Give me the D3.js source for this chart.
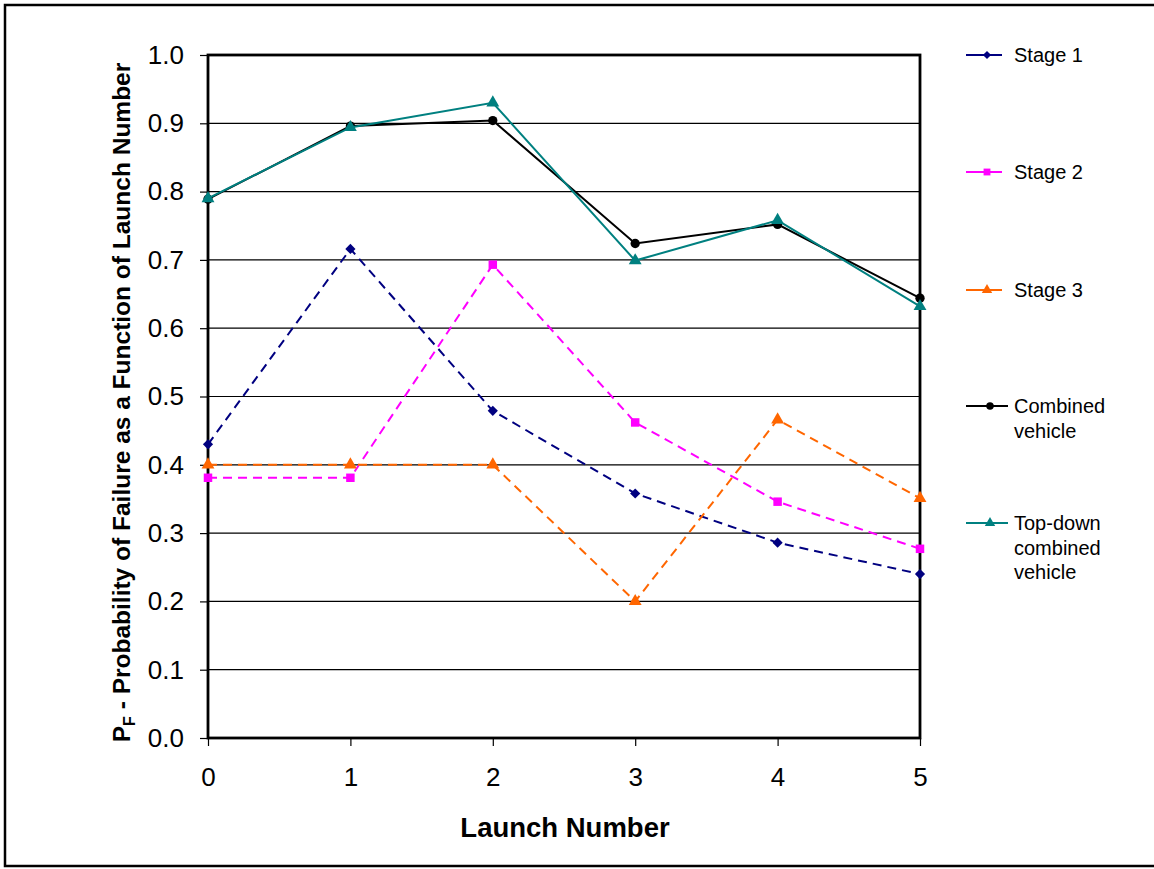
<!DOCTYPE html>
<html lang="en">
<head>
    <meta charset="UTF-8">
    <title>Probability of Failure by Launch Number</title>
    <style>
        body {
            margin: 0;
            background-color: #fff;
            font-family: 'Liberation Sans', Arial, sans-serif;
        }
        .grid line { stroke: #000; stroke-width: 1.2; }
        .axis text { font-size: 26px; fill: #000; }
        .axis path { display: none; }
        .axis line { stroke: #000; stroke-width: 1.2; }
    </style>
</head>
<body>
<div id="chart"></div>
<script src="https://d3js.org/d3.v7.min.js"></script>
<script>
    // Launch numbers on the x axis
    const launches = [0, 1, 2, 3, 4, 5];
    const yTicks = [0, 0.1, 0.2, 0.3, 0.4, 0.5, 0.6, 0.7, 0.8, 0.9, 1.0];

    // Values
    const stage1 = [0.430, 0.716, 0.479, 0.358, 0.286, 0.240];
    const stage2 = [0.381, 0.381, 0.693, 0.462, 0.346, 0.277];
    const stage3 = [0.400, 0.400, 0.400, 0.200, 0.466, 0.351];
    const combined = [0.789, 0.896, 0.904, 0.724, 0.752, 0.644];
    const topDown = [0.790, 0.894, 0.930, 0.699, 0.758, 0.632];

    const series = [
        { name: ["Stage 1"], values: stage1, color: "#000080", dash: "9,6", marker: "diamond", legY: 55, legLen: 36 },
        { name: ["Stage 2"], values: stage2, color: "#ff00ff", dash: "9,6", marker: "square", legY: 172, legLen: 36 },
        { name: ["Stage 3"], values: stage3, color: "#ff6600", dash: "9,6", marker: "triangle", legY: 290, legLen: 36 },
        { name: ["Combined", "vehicle"], values: combined, color: "#000000", dash: null, marker: "circle", legY: 406, legLen: 42 },
        { name: ["Top-down", "combined", "vehicle"], values: topDown, color: "#008080", dash: null, marker: "triangle", legY: 523, legLen: 42 }
    ];

    const width = 1154;
    const height = 869;
    const plot = { left: 208, right: 920, top: 55, bottom: 738 };

    const svg = d3.select("#chart")
        .append("svg")
        .attr("width", width)
        .attr("height", height);

    // outer frame
    svg.append("rect")
        .attr("x", 5).attr("y", 5)
        .attr("width", 1160).attr("height", 861)
        .attr("fill", "none")
        .attr("stroke", "#000")
        .attr("stroke-width", 2.5);

    const x = d3.scaleLinear().domain([0, 5]).range([plot.left, plot.right]);
    const y = d3.scaleLinear().domain([0, 1]).range([plot.bottom, plot.top]);

    // gridlines
    svg.append("g")
        .attr("class", "grid")
        .selectAll("line")
        .data(yTicks)
        .join("line")
        .attr("x1", plot.left).attr("x2", plot.right)
        .attr("y1", d => y(d)).attr("y2", d => y(d));

    // axes
    svg.append("g")
        .attr("class", "axis")
        .attr("transform", `translate(${plot.left},0)`)
        .call(d3.axisLeft(y).tickValues(yTicks).tickFormat(d3.format(".1f")).tickSize(8).tickPadding(16));

    svg.append("g")
        .attr("class", "axis")
        .attr("transform", `translate(0,${plot.bottom})`)
        .call(d3.axisBottom(x).tickValues(launches).tickFormat(d3.format("d")).tickSize(8).tickPadding(22));

    // plot frame
    svg.append("rect")
        .attr("x", plot.left).attr("y", plot.top)
        .attr("width", plot.right - plot.left)
        .attr("height", plot.bottom - plot.top)
        .attr("fill", "none")
        .attr("stroke", "#000")
        .attr("stroke-width", 2.8);

    // axis titles
    svg.append("text")
        .attr("x", (plot.left + plot.right) / 2 + 1)
        .attr("y", 837)
        .attr("text-anchor", "middle")
        .style("font-size", "27.5px")
        .style("font-weight", "bold")
        .text("Launch Number");

    const yTitle = svg.append("text")
        .attr("transform", `translate(130,${(plot.top + plot.bottom) / 2 + 6}) rotate(-90)`)
        .attr("text-anchor", "middle")
        .style("font-size", "24.5px")
        .style("font-weight", "bold");
    yTitle.append("tspan").text("P");
    yTitle.append("tspan").attr("dy", 5).style("font-size", "16px").text("F");
    yTitle.append("tspan").attr("dy", -5).text(" - Probability of Failure as a Function of Launch Number");

    const symbolType = {
        diamond: d3.symbolSquare,
        square: d3.symbolSquare,
        triangle: d3.symbolTriangle,
        circle: d3.symbolCircle
    };
    const symbolSize = { diamond: 52, square: 72, triangle: 72, circle: 68 };
    const symbolRotate = { diamond: 45, square: 0, triangle: 0, circle: 0 };

    const line = d3.line()
        .x((d, i) => x(launches[i]))
        .y(d => y(d));

    series.forEach(s => {
        svg.append("path")
            .datum(s.values)
            .attr("d", line)
            .attr("fill", "none")
            .attr("stroke", s.color)
            .attr("stroke-width", 2)
            .attr("stroke-dasharray", s.dash);

        svg.append("g")
            .selectAll("path")
            .data(s.values)
            .join("path")
            .attr("transform", (d, i) => `translate(${x(launches[i])},${y(d)}) rotate(${symbolRotate[s.marker]})`)
            .attr("d", d3.symbol().type(symbolType[s.marker]).size(symbolSize[s.marker]))
            .attr("fill", s.color);
    });

    // legend
    const legend = svg.append("g");
    series.forEach(s => {
        const g = legend.append("g").attr("transform", `translate(966,${s.legY})`);
        g.append("line")
            .attr("x1", 0).attr("x2", s.legLen)
            .attr("stroke", s.color)
            .attr("stroke-width", 2);
        g.append("path")
            .attr("transform", `translate(${s.legLen / 2 + 3},0) rotate(${symbolRotate[s.marker]})`)
            .attr("d", d3.symbol().type(symbolType[s.marker]).size(symbolSize[s.marker] * 0.65))
            .attr("fill", s.color);
        const t = g.append("text")
            .attr("x", 48)
            .attr("y", 7)
            .style("font-size", "20px");
        s.name.forEach((n, i) => {
            t.append("tspan").attr("x", 48).attr("dy", i === 0 ? 0 : 24.5).text(n);
        });
    });
</script>
</body>
</html>
